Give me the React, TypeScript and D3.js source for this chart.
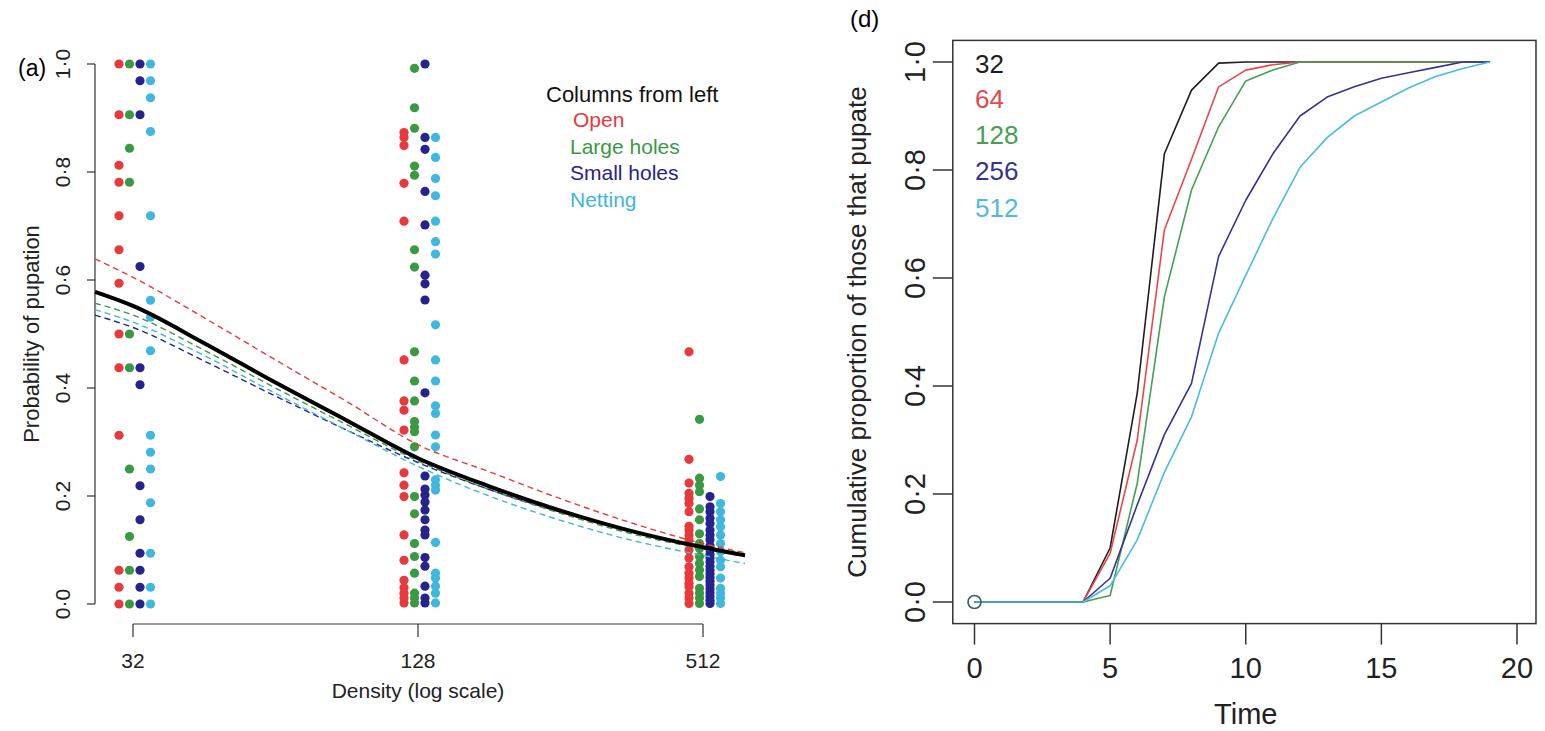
import React from "react";
import * as d3 from "d3";

// panel (a): proportion pupating per replicate, by density and cage treatment
const treatments = ["Open", "Large holes", "Small holes", "Netting"];
const densities = [32, 128, 512];
const treatColors = ["#e8393c", "#3a9a44", "#26248c", "#40b7dd"];

const open32 = [1, 0.906, 0.8125, 0.781, 0.719, 0.656, 0.594, 0.5, 0.4375, 0.3125, 0.0625, 0.031, 0];
const large32 = [1, 0.906, 0.844, 0.781, 0.5, 0.4375, 0.25, 0.125, 0.0625, 0];
const small32 = [1, 0.969, 0.906, 0.625, 0.4375, 0.406, 0.219, 0.156, 0.094, 0.0625, 0.031, 0];
const net32 = [1, 0.969, 0.9375, 0.875, 0.719, 0.5625, 0.531, 0.469, 0.3125, 0.281, 0.25, 0.1875, 0.094, 0.031, 0];

const open128 = [0.873, 0.864, 0.849, 0.779, 0.709, 0.452, 0.376, 0.359, 0.322, 0.243, 0.22, 0.199, 0.128, 0.081, 0.044, 0.03, 0.02, 0.011, 0.002];
const large128 = [0.992, 0.919, 0.881, 0.811, 0.794, 0.656, 0.624, 0.467, 0.413, 0.376, 0.338, 0.328, 0.319, 0.291, 0.199, 0.167, 0.112, 0.088, 0.057, 0.02, 0.011, 0.002];
const small128 = [1, 0.864, 0.842, 0.764, 0.702, 0.609, 0.593, 0.563, 0.391, 0.237, 0.213, 0.202, 0.189, 0.174, 0.156, 0.137, 0.128, 0.086, 0.07, 0.033, 0.011, 0.002];
const net128 = [0.864, 0.827, 0.788, 0.756, 0.709, 0.671, 0.648, 0.517, 0.452, 0.413, 0.367, 0.353, 0.313, 0.291, 0.23, 0.22, 0.211, 0.114, 0.057, 0.048, 0.033, 0.02, 0.002];

const open512 = [0.467, 0.268, 0.224, 0.205, 0.196, 0.186, 0.171, 0.144, 0.137, 0.128, 0.119, 0.1, 0.085, 0.069, 0.057, 0.048, 0.038, 0.032, 0.02, 0.011, 0.001];
const large512 = [0.342, 0.233, 0.22, 0.208, 0.176, 0.156, 0.13, 0.112, 0.103, 0.088, 0.075, 0.063, 0.051, 0.029, 0.02, 0.011, 0.001];
const small512 = [0.199, 0.18, 0.171, 0.159, 0.149, 0.137, 0.128, 0.119, 0.108, 0.1, 0.092, 0.085, 0.078, 0.07, 0.063, 0.056, 0.049, 0.042, 0.035, 0.028, 0.021, 0.014, 0.007, 0.001];
const net512 = [0.236, 0.186, 0.171, 0.156, 0.143, 0.128, 0.112, 0.097, 0.081, 0.069, 0.048, 0.029, 0.02, 0.011, 0.001];

const groups = [
  [open32, large32, small32, net32],
  [open128, large128, small128, net128],
  [open512, large512, small512, net512],
];

// fitted curves
const fitDensity = [26.6, 32, 45.25, 64, 90.5, 128, 181, 256, 362, 512, 628];
const fitAll = [0.578, 0.552, 0.483, 0.41, 0.34, 0.27, 0.218, 0.173, 0.135, 0.105, 0.09];
const fitOpen = [0.639, 0.605, 0.53, 0.452, 0.375, 0.295, 0.245, 0.195, 0.15, 0.112, 0.095];
const fitLarge = [0.557, 0.535, 0.47, 0.4, 0.332, 0.265, 0.212, 0.168, 0.13, 0.102, 0.088];
const fitSmall = [0.535, 0.512, 0.45, 0.385, 0.322, 0.262, 0.212, 0.17, 0.135, 0.106, 0.092];
const fitNet = [0.545, 0.522, 0.46, 0.39, 0.322, 0.255, 0.2, 0.155, 0.118, 0.09, 0.075];
const fitTreat = [fitOpen, fitLarge, fitSmall, fitNet];

const probTicks = [0, 0.2, 0.4, 0.6, 0.8, 1];

// panel (d): cumulative proportion pupated over time, by density
const times = [0, 1, 2, 3, 4, 5, 6, 7, 8, 9, 10, 11, 12, 13, 14, 15, 16, 17, 18, 19];
const cumLabels = ["32", "64", "128", "256", "512"];
const cumColors = ["#1e1e1e", "#e8474a", "#44a055", "#35338f", "#4bbbe0"];
const cum32 = [0, 0, 0, 0, 0, 0.1, 0.387, 0.83, 0.948, 0.998, 1, 1, 1, 1, 1, 1, 1, 1, 1, 1];
const cum64 = [0, 0, 0, 0, 0, 0.09, 0.3, 0.689, 0.82, 0.954, 0.985, 0.995, 1, 1, 1, 1, 1, 1, 1, 1];
const cum128 = [0, 0, 0, 0, 0, 0.012, 0.22, 0.565, 0.763, 0.88, 0.965, 0.985, 1, 1, 1, 1, 1, 1, 1, 1];
const cum256 = [0, 0, 0, 0, 0, 0.044, 0.18, 0.31, 0.405, 0.64, 0.744, 0.83, 0.9, 0.935, 0.954, 0.97, 0.98, 0.99, 1, 1];
const cum512 = [0, 0, 0, 0, 0, 0.03, 0.115, 0.24, 0.343, 0.498, 0.605, 0.71, 0.805, 0.86, 0.9, 0.926, 0.952, 0.973, 0.988, 1];
const cumSeries = [cum32, cum64, cum128, cum256, cum512];
const timeTicks = [0, 5, 10, 15, 20];

const font = "'Liberation Sans', Arial, Helvetica, sans-serif";
const fmt = (v: number) => v.toFixed(1).replace(".", "\u00b7");

export default function App() {
  // ---- panel (a) scales
  const xA = d3.scaleLog().base(2).domain([26.6, 628]).range([95, 745]);
  const yA = d3.scaleLinear().domain([0, 1]).range([604, 64]);
  const offset = d3.scalePoint<string>().domain(treatments).range([-14, 17.5]);
  const fitLine = d3
    .line<number>()
    .x((_, i) => xA(fitDensity[i]))
    .y((d) => yA(d))
    .curve(d3.curveMonotoneX);

  // ---- panel (d) scales
  const xD = d3.scaleLinear().domain([0, 20]).range([974.5, 1517]);
  const yD = d3.scaleLinear().domain([0, 1]).range([602, 62]);
  const cumLine = d3
    .line<number>()
    .x((_, i) => xD(times[i]))
    .y((d) => yD(d));
  const boxX0 = xD(-0.8), boxX1 = xD(20.7), boxY0 = yD(1.04), boxY1 = yD(-0.04);

  return (
    <svg width={1545} height={731} style={{ position: "absolute", left: 0, top: 0, background: "#fff" }} fontFamily={font}>
      {/* ================= panel (a) ================= */}
      <text x={18} y={76} fontSize={23}>(a)</text>

      {/* y axis */}
      <line x1={95} x2={95} y1={yA(0)} y2={yA(1)} stroke="#333" strokeWidth={1.2} />
      {probTicks.map((t) => (
        <g key={t}>
          <line x1={87} x2={95} y1={yA(t)} y2={yA(t)} stroke="#333" strokeWidth={1.2} />
          <text transform={`translate(70,${yA(t)}) rotate(-90)`} textAnchor="middle" fontSize={21} fill="#222">{fmt(t)}</text>
        </g>
      ))}
      <text transform={`translate(39,334) rotate(-90)`} textAnchor="middle" fontSize={22} fill="#222">Probability of pupation</text>

      {/* x axis */}
      <line x1={xA(32)} x2={xA(512)} y1={624} y2={624} stroke="#333" strokeWidth={1.2} />
      {densities.map((d) => (
        <g key={d}>
          <line x1={xA(d)} x2={xA(d)} y1={624} y2={637} stroke="#333" strokeWidth={1.2} />
          <text x={xA(d)} y={668} textAnchor="middle" fontSize={21} fill="#222">{d}</text>
        </g>
      ))}
      <text x={xA(128)} y={698} textAnchor="middle" fontSize={21} fill="#222">Density (log scale)</text>

      {/* points */}
      {groups.map((g, gi) =>
        g.map((vals, ti) =>
          vals.map((v, k) => (
            <circle
              key={`${gi}-${ti}-${k}`}
              cx={xA(densities[gi]) + (offset(treatments[ti]) ?? 0)}
              cy={yA(v)}
              r={4.6}
              fill={treatColors[ti]}
            />
          ))
        )
      )}

      {/* fitted lines */}
      {fitTreat.map((f, i) => (
        <path key={i} d={fitLine(f) ?? ""} fill="none" stroke={treatColors[i]} strokeWidth={1.4} strokeDasharray="6,4" />
      ))}
      <path d={fitLine(fitAll) ?? ""} fill="none" stroke="#000" strokeWidth={4} />

      {/* legend */}
      <text x={546} y={102} fontSize={22} fill="#111">Columns from left</text>
      {treatments.map((t, i) => (
        <text key={t} x={i === 0 ? 573 : 570} y={127 + i * 26.7} fontSize={21} fill={treatColors[i]}>{t}</text>
      ))}

      {/* ================= panel (d) ================= */}
      <text x={850} y={27} fontSize={24}>(d)</text>
      <rect x={boxX0} y={boxY0} width={boxX1 - boxX0} height={boxY1 - boxY0} fill="none" stroke="#333" strokeWidth={1.5} />

      {probTicks.map((t) => (
        <g key={t}>
          <line x1={boxX0 - 20} x2={boxX0} y1={yD(t)} y2={yD(t)} stroke="#333" strokeWidth={1.5} />
          <text transform={`translate(925,${yD(t)}) rotate(-90)`} textAnchor="middle" fontSize={29} fill="#222">{fmt(t)}</text>
        </g>
      ))}
      <text transform={`translate(866,${(boxY0 + boxY1) / 2}) rotate(-90)`} textAnchor="middle" fontSize={26} fill="#222">
        Cumulative proportion of those that pupate
      </text>

      {timeTicks.map((t) => (
        <g key={t}>
          <line x1={xD(t)} x2={xD(t)} y1={boxY1} y2={boxY1 + 21} stroke="#333" strokeWidth={1.5} />
          <text x={xD(t)} y={678} textAnchor="middle" fontSize={29} fill="#222">{t}</text>
        </g>
      ))}
      <text x={xD(10)} y={724} textAnchor="middle" fontSize={29} fill="#222">Time</text>

      {cumSeries.map((s, i) => (
        <path key={i} d={cumLine(s) ?? ""} fill="none" stroke={cumColors[i]} strokeWidth={1.6} strokeLinejoin="round" />
      ))}
      <circle cx={xD(0)} cy={yD(0)} r={6.5} fill="none" stroke="#3c5a64" strokeWidth={1.6} />

      {cumLabels.map((l, i) => (
        <text key={l} x={975} y={[73, 108, 144, 180, 217][i]} fontSize={26} fill={cumColors[i]}>{l}</text>
      ))}
    </svg>
  );
}
